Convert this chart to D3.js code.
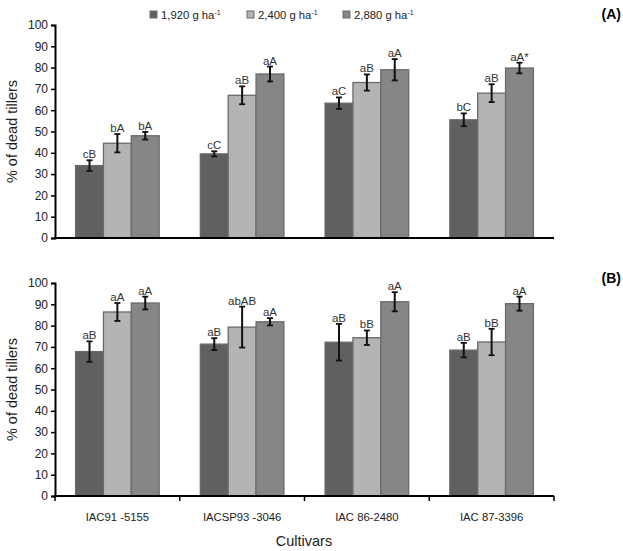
<!DOCTYPE html>
<html>
<head>
<meta charset="utf-8">
<script src="https://cdn.jsdelivr.net/npm/d3@7"></script>
<style>
  body { margin: 0; background: #fff; }
  svg { font-family: "Liberation Sans", Arial, sans-serif; }
</style>
</head>
<body>
<div id="chart"></div>
<script>
// cultivars and doses
const cultivars = ['IAC91 -5155', 'IACSP93 -3046', 'IAC 86-2480', 'IAC 87-3396'];
const doses = ['1,920 g ha', '2,400 g ha', '2,880 g ha'];
const doseColors = ['#606060', '#b4b4b4', '#868686'];
const yTicks = [0, 10, 20, 30, 40, 50, 60, 70, 80, 90, 100];

// panel A: means per cultivar, one row per dose
const valuesA = [
  [34, 39.5, 63.3, 55.5],
  [44.5, 67, 73, 68],
  [48, 77, 79, 79.8]
];
const errorsA = [
  [2.5, 1.2, 2.7, 3],
  [4.3, 4.2, 3.8, 4.2],
  [1.8, 3.5, 5, 2.5]
];
const lettersA = [
  ['cB', 'cC', 'aC', 'bC'],
  ['bA', 'aB', 'aB', 'aB'],
  ['bA', 'aA', 'aA', 'aA*']
];

// panel B
const valuesB = [
  [67.8, 71.3, 72.2, 68.5],
  [86.4, 79.3, 74.3, 72.3],
  [90.6, 81.8, 91.2, 90.3]
];
const errorsB = [
  [4.8, 2.8, 8.6, 3.4],
  [4.2, 9.6, 3.4, 6.2],
  [3, 1.7, 4.5, 3.3]
];
const lettersB = [
  ['aB', 'aB', 'aB', 'aB'],
  ['aA', 'abAB', 'bB', 'bB'],
  ['aA', 'aA', 'aA', 'aA']
];

const W = 623, H = 551;
const left = 55, right = 554;

const svg = d3.select('#chart').append('svg')
  .attr('width', W).attr('height', H);

const x0 = d3.scaleBand().domain(cultivars).range([left, right]).paddingInner(0.33).paddingOuter(0.165);
const x1 = d3.scaleBand().domain(d3.range(doses.length)).range([0, x0.bandwidth()]);

function drawPanel(top, bottom, values, errors, letters, showXTicks) {
  const y = d3.scaleLinear().domain([0, 100]).range([bottom, top]);
  const g = svg.append('g');

  // bars
  values.forEach((row, di) => {
    g.selectAll(null).data(row).join('rect')
      .attr('x', (d, ci) => x0(cultivars[ci]) + x1(di))
      .attr('y', d => y(d))
      .attr('width', x1.bandwidth())
      .attr('height', d => y(0) - y(d))
      .attr('fill', doseColors[di])
      .attr('stroke', '#6a6a6a')
      .attr('stroke-width', 1.3);
  });

  // error bars + letters
  values.forEach((row, di) => {
    row.forEach((v, ci) => {
      const cx = x0(cultivars[ci]) + x1(di) + x1.bandwidth() / 2;
      const e = errors[di][ci];
      const yt = y(v + e), yb = y(v - e);
      g.append('line').attr('x1', cx).attr('x2', cx).attr('y1', yt).attr('y2', yb)
        .attr('stroke', '#111').attr('stroke-width', 2);
      [yt, yb].forEach(yy => g.append('line')
        .attr('x1', cx - 3).attr('x2', cx + 3).attr('y1', yy).attr('y2', yy)
        .attr('stroke', '#111').attr('stroke-width', 1.8));
      g.append('text')
        .attr('x', cx).attr('y', yt - 2)
        .attr('text-anchor', 'middle')
        .attr('font-size', 11.5).attr('fill', '#333')
        .text(letters[di][ci]);
    });
  });

  // y axis
  const ya = g.append('g').attr('transform', `translate(${left},0)`)
    .call(d3.axisLeft(y).tickValues(yTicks).tickSize(4).tickPadding(3));
  ya.select('.domain').attr('stroke', '#000').attr('stroke-width', 2);
  ya.selectAll('.tick line').attr('stroke', '#000').attr('stroke-width', 1.5);
  ya.selectAll('.tick text').attr('font-size', 12).attr('fill', '#222')
    .attr('font-family', '"Liberation Sans", Arial, sans-serif');

  // x axis
  g.append('line').attr('x1', left - 1).attr('x2', right).attr('y1', bottom).attr('y2', bottom)
    .attr('stroke', '#000').attr('stroke-width', 2);
  if (showXTicks) {
    const edges = cultivars.map(c => x0(c) - x0.step() * x0.paddingInner() / 2);
    edges.push(right);
    g.selectAll(null).data(edges).join('line')
      .attr('x1', d => d).attr('x2', d => d)
      .attr('y1', bottom).attr('y2', bottom + 5)
      .attr('stroke', '#000').attr('stroke-width', 1.5);
    g.selectAll(null).data(cultivars).join('text')
      .attr('x', d => x0(d) + x0.bandwidth() / 2)
      .attr('y', bottom + 25)
      .attr('text-anchor', 'middle')
      .attr('font-size', 11.3).attr('fill', '#222')
      .text(d => d);
  }

  // y label
  g.append('text')
    .attr('transform', `translate(17,${(top + bottom) / 2}) rotate(-90)`)
    .attr('text-anchor', 'middle')
    .attr('font-size', 14.5).attr('fill', '#222')
    .text('% of dead tillers');

  return y;
}

drawPanel(25, 238, valuesA, errorsA, lettersA, false);
drawPanel(283, 496, valuesB, errorsB, lettersB, true);

// panel tags
svg.append('text').attr('x', 621).attr('y', 19).attr('text-anchor', 'end')
  .attr('font-size', 14).attr('font-weight', 'bold').text('(A)');
svg.append('text').attr('x', 621).attr('y', 283).attr('text-anchor', 'end')
  .attr('font-size', 14).attr('font-weight', 'bold').text('(B)');

// x title
svg.append('text').attr('x', 304).attr('y', 546).attr('text-anchor', 'middle')
  .attr('font-size', 14.5).attr('fill', '#222').text('Cultivars');

// legend
const legendX = [150, 247, 343];
const lg = svg.append('g').selectAll('g').data(doses).join('g')
  .attr('transform', (d, i) => `translate(${legendX[i]},15)`);
lg.append('rect').attr('x', 0).attr('y', -4).attr('width', 7).attr('height', 7)
  .attr('fill', (d, i) => doseColors[i]).attr('stroke', '#6a6a6a').attr('stroke-width', 1);
const lt = lg.append('text').attr('x', 11).attr('y', 3.5)
  .attr('font-size', 11.3).attr('fill', '#222');
lt.append('tspan').text(d => d);
lt.append('tspan').attr('dy', -4).attr('font-size', 7).text('-1');
</script>
</body>
</html>
